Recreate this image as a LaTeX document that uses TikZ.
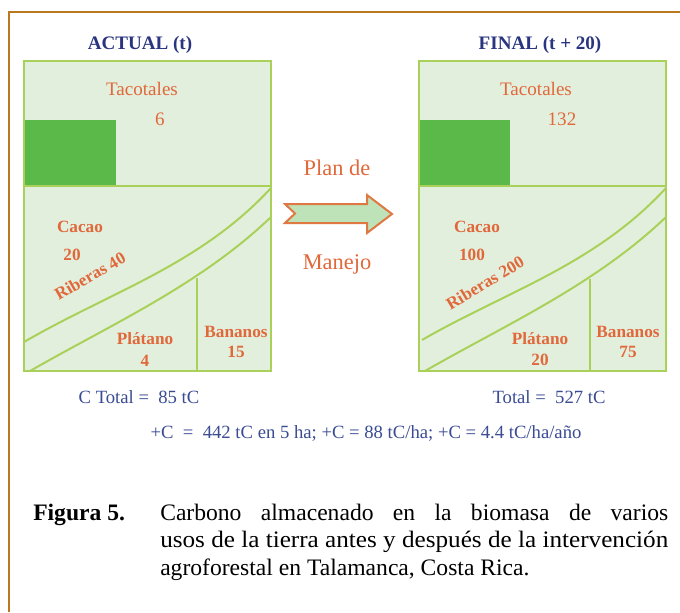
\documentclass[tikz,border=0pt]{standalone}
\usepackage{fontspec}
\usepackage{graphicx}
\setmainfont{Liberation Serif}
\definecolor{framec}{HTML}{B8791F}
\definecolor{pale}{HTML}{E3EFDD}
\definecolor{bordc}{HTML}{A9D15A}
\definecolor{dkgreen}{HTML}{5AB948}
\definecolor{orangetxt}{HTML}{E0683A}
\definecolor{navy}{HTML}{2A3580}
\definecolor{bluetxt}{HTML}{3A4C94}
\definecolor{arrowfill}{HTML}{BEE3B9}
\definecolor{arrowline}{HTML}{E07844}
\begin{document}
\begin{tikzpicture}[x=0.75pt,y=-0.75pt,
  framestyle/.style={draw=framec,line width=2.2pt},
  bord/.style={draw=bordc,line width=1.5pt},
  headtxt/.style={text=navy,font=\fontsize{14.3}{16}\selectfont\bfseries,inner sep=0pt},
  regtxt/.style={text=orangetxt,font=\fontsize{14.3}{16}\selectfont,inner sep=0pt},
  boldtxt/.style={text=orangetxt,font=\fontsize{12.9}{14}\selectfont\bfseries,inner sep=0pt},
  plantxt/.style={text=orangetxt,font=\fontsize{16.8}{19}\selectfont,inner sep=0pt},
  totaltxt/.style={text=bluetxt,font=\fontsize{14}{16}\selectfont,inner sep=0pt},
  captxt/.style={text=black,font=\fontsize{17.7}{20.6}\selectfont,inner sep=0pt,anchor=base west}]
\useasboundingbox (0,0) rectangle (680,612);
\fill[white] (0,0) rectangle (680,612);
\draw[framestyle] (9,612) -- (9,12) -- (680,12);

% ---- left plot
\fill[pale] (24,61) rectangle (271,371);
\fill[dkgreen] (24,120) rectangle (116,186);
\draw[bord] (24,61) rectangle (271,371);
\draw[bord] (24,186) -- (271,186);
\draw[bord] (24,342) .. controls (110,292) and (200,265) .. (271,188);
\draw[bord] (30,371) .. controls (110,325) and (200,285) .. (271,217);
\draw[bord] (197,278) -- (197,371);
\node[headtxt] (h1) at (140,45) {ACTUAL (t)};
\node[regtxt] (tac1) at (142,89) {Tacotales};
\node[regtxt] (tacv1) at (160,119) {6};
\node[boldtxt] (cac1) at (80,227) {Cacao};
\node[boldtxt] (cacv1) at (72,255) {20};
\node[boldtxt,rotate=30] (rib1) at (90,276) {Riberas 40};
\node[boldtxt] (pla1) at (145,339) {Plátano};
\node[boldtxt] (plav1) at (145,361) {4};
\node[boldtxt] (ban1) at (236,332) {Bananos};
\node[boldtxt] (banv1) at (236,352) {15};

% ---- right plot
\begin{scope}[shift={(395,0)}]
\fill[pale] (24,61) rectangle (271,371);
\fill[dkgreen] (24,120) rectangle (115,186);
\draw[bord] (24,61) rectangle (271,371);
\draw[bord] (24,186) -- (271,186);
\draw[bord] (27,340) .. controls (110,292) and (200,265) .. (271,188);
\draw[bord] (30,371) .. controls (110,325) and (200,285) .. (271,217);
\draw[bord] (195,279) -- (195,371);
\end{scope}
\node[headtxt] (h2) at (540,45) {FINAL (t + 20)};
\node[regtxt] (tac2) at (536,89) {Tacotales};
\node[regtxt] (tacv2) at (562,119) {132};
\node[boldtxt] (cac2) at (477,227) {Cacao};
\node[boldtxt] (cacv2) at (472,255) {100};
\node[boldtxt,rotate=31] (rib2) at (485,283) {Riberas 200};
\node[boldtxt] (pla2) at (540,339) {Plátano};
\node[boldtxt] (plav2) at (540,360) {20};
\node[boldtxt] (ban2) at (628,332) {Bananos};
\node[boldtxt] (banv2) at (628,352) {75};

% ---- arrow
\node[plantxt] (plan) at (337,168) {Plan de};
\node[plantxt] (manejo) at (337,264) {Manejo};
\draw[draw=arrowline,fill=arrowfill,line width=1.5pt,line join=miter]
  (285,204) -- (367,204) -- (367,195) -- (392,214) -- (367,233) -- (367,223)
  -- (285,223) -- (295,213.5) -- cycle;

% ---- totals
\node[totaltxt] (tot1) at (139,397) {C Total =\ \ 85 tC};
\node[totaltxt] (tot2) at (549,397) {Total =\ \ 527 tC};
\node[totaltxt] (delta) at (366,433) {+C\ \ =\ \ 442 tC en 5 ha; +C = 88 tC/ha; +C = 4.4 tC/ha/año};

% ---- caption
\node[captxt,font=\fontsize{17.7}{20.6}\selectfont\bfseries] (fig) at (33,520) {Figura 5.};
\node[captxt] (cap1) at (160,520) {\makebox[381pt][s]{Carbono almacenado en la biomasa de varios}};
\node[captxt] (cap2) at (160,547.5) {\resizebox{381pt}{\height}{usos de la tierra antes y después de la intervención}};
\node[captxt] (cap3) at (160,575) {agroforestal en Talamanca, Costa Rica.};
\end{tikzpicture}
\end{document}
